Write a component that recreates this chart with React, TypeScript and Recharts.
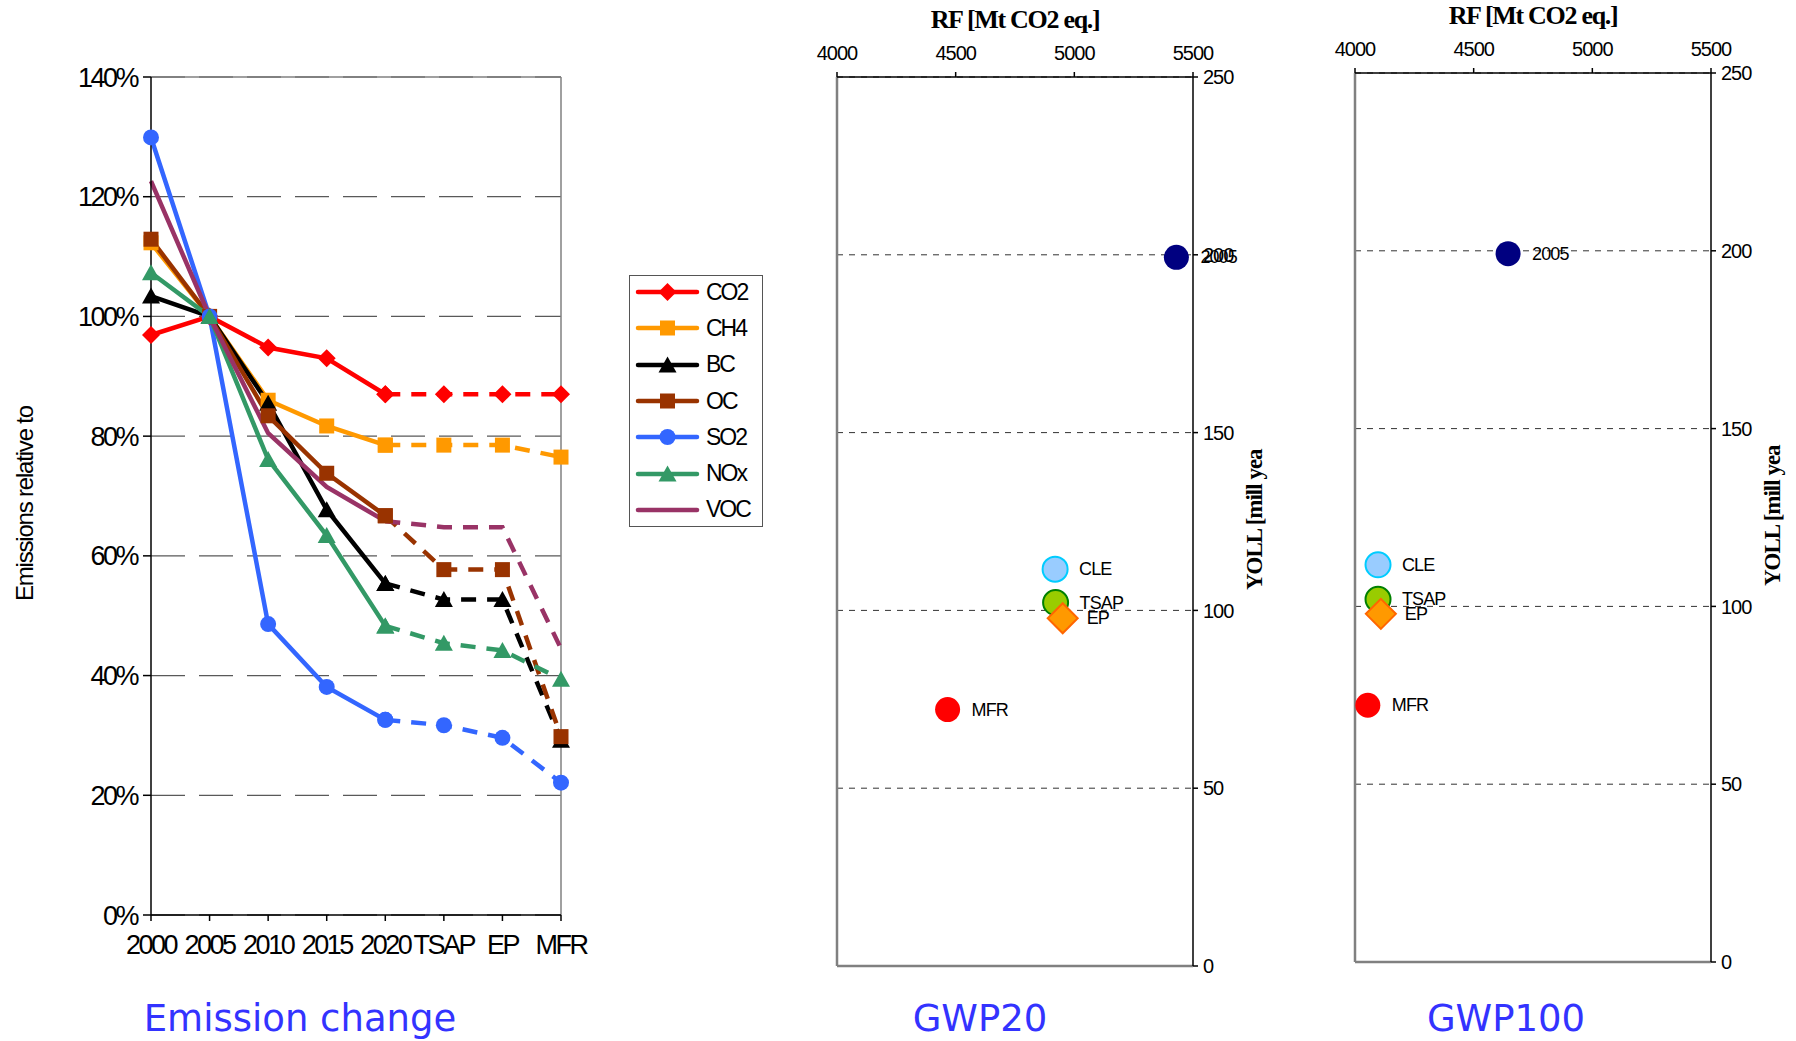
import React from "react";
import {
  LineChart, Line, XAxis, YAxis, CartesianGrid, ReferenceLine, Legend, Label,
  ScatterChart, Scatter, LabelList,
} from "recharts";

// emissions relative to 2005, in %
const categories = ["2000", "2005", "2010", "2015", "2020", "TSAP", "EP", "MFR"];
const co2 = [96.9, 100, 94.8, 93.0, 87.0, 87.0, 87.0, 87.0];
const ch4 = [112.3, 100, 86.0, 81.7, 78.5, 78.5, 78.5, 76.5];
const bc = [103.4, 100, 85.5, 67.7, 55.4, 52.7, 52.7, 29.2];
const oc = [112.9, 100, 83.4, 73.8, 66.7, 57.7, 57.7, 29.8];
const so2 = [129.9, 100, 48.6, 38.1, 32.6, 31.7, 29.6, 22.1];
const nox = [107.3, 100, 76.1, 63.4, 48.3, 45.4, 44.2, 39.4];
const voc = [122.6, 100, 80.5, 71.5, 65.8, 64.8, 64.8, 44.5];
const pctTicks = [0, 20, 40, 60, 80, 100, 120, 140];
const lastHistoric = 4; // 2020: solid up to here, dashed after

// RF vs YOLL scatter panels
const scenarios = ["2005", "CLE", "TSAP", "EP", "MFR"];
const gwp20Rf = [5430, 4919, 4921, 4951, 4466];
const gwp20Yoll = [199.3, 111.6, 102.2, 97.8, 72.1];
const gwp100Rf = [4645, 4097, 4097, 4109, 4054];
const gwp100Yoll = [199.2, 111.7, 102.0, 97.9, 72.2];
const rfTicks = [4000, 4500, 5000, 5500];
const yollTicks = [0, 50, 100, 150, 200, 250];

const species = [
  { name: "CO2", values: co2, color: "#FF0000", marker: "diamond" },
  { name: "CH4", values: ch4, color: "#FF9900", marker: "square" },
  { name: "BC", values: bc, color: "#000000", marker: "triangle" },
  { name: "OC", values: oc, color: "#993300", marker: "square" },
  { name: "SO2", values: so2, color: "#3366FF", marker: "circle" },
  { name: "NOx", values: nox, color: "#339966", marker: "triangle" },
  { name: "VOC", values: voc, color: "#993366", marker: "none" },
];

const scenarioStyle: Record<string, any> = {
  "2005": { fill: "#000080", stroke: "none", shape: "circle" },
  CLE: { fill: "#99CCFF", stroke: "#00CCFF", shape: "circle" },
  TSAP: { fill: "#99CC00", stroke: "#008000", shape: "circle" },
  EP: { fill: "#FF9900", stroke: "#FF6600", shape: "diamond" },
  MFR: { fill: "#FF0000", stroke: "none", shape: "circle" },
};

const rows = categories.map((cat, i) => {
  const row: any = { cat };
  species.forEach((s) => {
    row[s.name + "_s"] = i <= lastHistoric ? s.values[i] : null;
    row[s.name + "_d"] = i >= lastHistoric ? s.values[i] : null;
  });
  return row;
});

const sans = "'Liberation Sans', Arial, sans-serif";
const serif = "'Liberation Serif', 'Times New Roman', serif";

const markerEl = (kind: string, color: string, cx: number, cy: number, key?: any) => {
  if (kind === "diamond")
    return <polygon key={key} points={`${cx},${cy - 9} ${cx + 9},${cy} ${cx},${cy + 9} ${cx - 9},${cy}`} fill={color} />;
  if (kind === "square")
    return <rect key={key} x={cx - 7.5} y={cy - 7.5} width={15} height={15} fill={color} />;
  if (kind === "triangle")
    return <polygon key={key} points={`${cx},${cy - 8.5} ${cx + 9},${cy + 7.5} ${cx - 9},${cy + 7.5}`} fill={color} />;
  if (kind === "circle") return <circle key={key} cx={cx} cy={cy} r={8} fill={color} />;
  return <g key={key} />;
};

const makeDot = (kind: string, color: string) => (p: any) => {
  if (p.cx == null || p.cy == null || p.value == null) return <g key={p.index} />;
  return markerEl(kind, color, p.cx, p.cy, p.index);
};

const renderLegend = (props: any) => {
  const payload = props.payload || [];
  const shown = species.filter((s) => payload.some((e: any) => e.value === s.name));
  return (
    <div style={{ width: 134, height: 252, border: "1.5px solid #555", boxSizing: "border-box", background: "#fff" }}>
      {shown.map((s, i) => (
        <div key={s.name} style={{ display: "flex", alignItems: "center", height: 36.3, marginTop: i === 0 ? -2 : 0 }}>
          <svg width={76} height={22} style={{ flex: "none" }}>
            <line x1={8} y1={11} x2={67} y2={11} stroke={s.color} strokeWidth={4.5} strokeLinecap="round" />
            {markerEl(s.marker, s.color, 37.5, 11)}
          </svg>
          <span style={{ fontFamily: sans, fontSize: 23, letterSpacing: -2, color: "#000" }}>{s.name}</span>
        </div>
      ))}
    </div>
  );
};

const sideTitle = (text: string, dx: number, fromBottom: number, style: any) => (props: any) => {
  const vb = props.viewBox || {};
  const x = vb.x + dx;
  const y = vb.y + vb.height - fromBottom;
  return (
    <text x={x} y={y} transform={`rotate(-90 ${x} ${y})`} textAnchor="start" dominantBaseline="central" {...style}>
      {text}
    </text>
  );
};

const topTitle = (text: string) => (props: any) => {
  const vb = props.viewBox || {};
  return (
    <text x={vb.x + vb.width / 2} y={vb.y - 9} textAnchor="middle" fontFamily={serif} fontWeight="bold" fontSize={26} letterSpacing={-1.3} fill="#000">
      {text}
    </text>
  );
};

const pointLabel = (p: any) => {
  const cx = p.x + p.width / 2;
  const cy = p.y + p.height / 2;
  return (
    <text x={cx + 24} y={cy} dominantBaseline="central" fontFamily={sans} fontSize={18} letterSpacing={-0.9} fill="#000">
      {p.value}
    </text>
  );
};

const scenarioShape = (name: string) => (p: any) => {
  const st = scenarioStyle[name];
  if (st.shape === "diamond")
    return <polygon points={`${p.cx},${p.cy - 15} ${p.cx + 15},${p.cy} ${p.cx},${p.cy + 15} ${p.cx - 15},${p.cy}`} fill={st.fill} stroke={st.stroke} strokeWidth={2} />;
  return <circle cx={p.cx} cy={p.cy} r={12.5} fill={st.fill} stroke={st.stroke} strokeWidth={2} />;
};

const ScatterPanel = ({ rf, yoll, left, top }: any) => {
  const pts = scenarios.map((name, i) => ({ name, rf: rf[i], yoll: yoll[i] }));
  const tick = { fontFamily: sans, fontSize: 20, letterSpacing: -1, fill: "#000" };
  return (
    <div style={{ position: "absolute", left, top: 0 }}>
      <ScatterChart width={518} height={1041} margin={{ top: top - 40, right: 0, bottom: 1041 - top - 889, left: 77 }}>
        <CartesianGrid vertical={false} stroke="#333" strokeDasharray="6 6" />
        <XAxis type="number" dataKey="rf" orientation="top" domain={[4000, 5500]} ticks={rfTicks} height={40}
          stroke="#000" strokeWidth={1.5} tickSize={5} tickMargin={12} tick={tick} allowDataOverflow>
          <Label content={topTitle("RF [Mt CO2 eq.]")} />
        </XAxis>
        <YAxis type="number" dataKey="yoll" orientation="right" domain={[0, 250]} ticks={yollTicks} width={85}
          stroke="#000" strokeWidth={1.5} tickSize={5} tickMargin={5} tick={tick} allowDataOverflow>
          <Label content={sideTitle("YOLL [mill yea", 61, 376, { fontFamily: serif, fontWeight: "bold", fontSize: 23, letterSpacing: -1, fill: "#000" })} />
        </YAxis>
        <ReferenceLine x={4000} stroke="#808080" strokeWidth={2.5} />
        <ReferenceLine y={0} stroke="#808080" strokeWidth={2.5} />
        {pts.map((pt) => (
          <Scatter key={pt.name} name={pt.name} data={[pt]} shape={scenarioShape(pt.name)} isAnimationActive={false}>
            <LabelList dataKey="name" content={pointLabel} />
          </Scatter>
        ))}
      </ScatterChart>
    </div>
  );
};

const titleStyle = (center: number): React.CSSProperties => ({
  position: "absolute", left: center - 200, top: 997, width: 400, textAlign: "center",
  fontFamily: "'DejaVu Sans', Verdana, sans-serif", fontSize: 37, lineHeight: "44px", color: "#3333FF",
});

export default function App() {
  const tick = { fontFamily: sans, fontSize: 27, letterSpacing: -2.5, fill: "#000" };
  return (
    <div style={{ position: "absolute", left: 0, top: 0, width: 1796, height: 1041, background: "#fff", overflow: "hidden" }}>
      <div style={{ position: "absolute", left: 0, top: 0 }}>
        <LineChart width={800} height={1041} data={rows} margin={{ top: 77, right: 239, bottom: 86, left: 0 }}>
          <CartesianGrid vertical={false} stroke="#595959" strokeWidth={1.3} strokeDasharray="34 14" />
          <XAxis dataKey="cat" height={40} stroke="#000" strokeWidth={1.5} tickSize={6} tickMargin={14} tick={tick} interval={0} />
          <YAxis domain={[0, 140]} ticks={pctTicks} width={151} stroke="#000" strokeWidth={1.5} tickSize={8} tickMargin={6}
            tick={tick} tickFormatter={(v: number) => `${v}%`} interval={0}>
            <Label content={sideTitle("Emissions relative to", 24, 314, { fontFamily: sans, fontSize: 24, letterSpacing: -1.2, fill: "#000" })} />
          </YAxis>
          <ReferenceLine y={140} stroke="#808080" strokeWidth={1.5} />
          <ReferenceLine x="MFR" stroke="#808080" strokeWidth={1.5} />
          {species.flatMap((s) => [
            <Line key={s.name + "_s"} dataKey={s.name + "_s"} name={s.name} stroke={s.color} strokeWidth={4.5}
              dot={s.marker === "none" ? false : makeDot(s.marker, s.color)} activeDot={false} isAnimationActive={false} />,
            <Line key={s.name + "_d"} dataKey={s.name + "_d"} name={s.name + " scenarios"} legendType="none" stroke={s.color}
              strokeWidth={4.5} strokeDasharray="15 11" dot={s.marker === "none" ? false : makeDot(s.marker, s.color)}
              activeDot={false} isAnimationActive={false} />,
          ])}
          <Legend layout="vertical" align="center" verticalAlign="middle" content={renderLegend}
            wrapperStyle={{ left: 629, top: 275, width: 134, height: 252 }} />
        </LineChart>
      </div>
      <ScatterPanel rf={gwp20Rf} yoll={gwp20Yoll} left={760} top={77} />
      <ScatterPanel rf={gwp100Rf} yoll={gwp100Yoll} left={1278} top={73} />
      <div style={titleStyle(300)}>Emission change</div>
      <div style={titleStyle(980)}>GWP20</div>
      <div style={titleStyle(1506)}>GWP100</div>
    </div>
  );
}
